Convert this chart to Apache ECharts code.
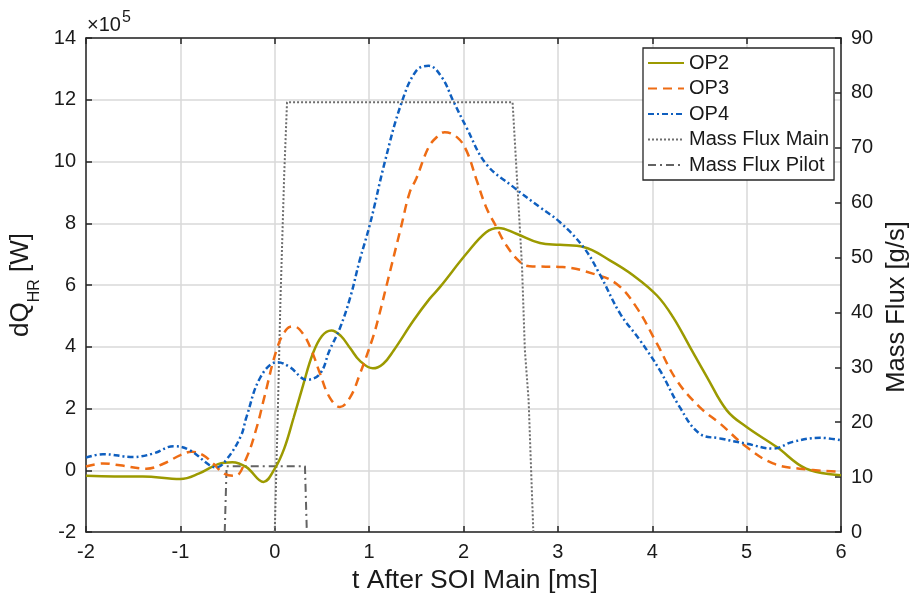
<!DOCTYPE html>
<html>
<head>
<meta charset="utf-8">
<script src="https://cdn.jsdelivr.net/npm/echarts@6/dist/echarts.min.js"></script>
<style>html,body{margin:0;padding:0;background:#fff}#c{width:912px;height:600px}</style>
</head>
<body>
<div id="c"></div>
<script>
// Heat release rate values in units of 1e5 W (axis shows x10^5)
var op2T = [-2.0,-1.7,-1.4,-1.0,-0.8,-0.6,-0.45,-0.3,-0.12,0.0,0.1,0.2,0.3,0.4,0.5,0.6,0.7,0.8,0.9,1.04,1.15,1.26,1.47,1.64,1.75,2.03,2.24,2.37,2.56,2.81,3.02,3.27,3.55,3.8,4.05,4.22,4.4,4.58,4.79,5.0,5.32,5.63,6.0];
var op2Q = [-0.18,-0.2,-0.2,-0.28,-0.1,0.2,0.26,0.1,-0.38,0.05,0.7,1.7,2.75,3.75,4.35,4.53,4.35,3.95,3.55,3.3,3.45,3.88,4.85,5.55,5.93,7.01,7.71,7.85,7.66,7.36,7.3,7.23,6.8,6.31,5.66,4.96,3.99,3.02,1.94,1.4,0.75,0.05,-0.16];

var op3T = [-2.0,-1.82,-1.64,-1.36,-1.18,-1.0,-0.88,-0.76,-0.65,-0.53,-0.42,-0.3,-0.19,-0.11,0.03,0.13,0.2,0.3,0.39,0.48,0.58,0.69,0.8,0.9,1.04,1.1,1.19,1.34,1.43,1.5,1.63,1.72,1.8,1.93,2.03,2.14,2.24,2.35,2.45,2.6,2.7,3.05,3.37,3.62,3.83,4.05,4.26,4.5,4.72,5.0,5.28,5.56,6.0];
var op3Q = [0.12,0.22,0.16,0.05,0.21,0.49,0.6,0.49,0.21,-0.12,-0.18,0.4,1.4,2.37,4.0,4.58,4.66,4.42,3.88,3.13,2.37,2.05,2.37,3.1,4.3,4.95,6.05,7.9,9.0,9.45,10.46,10.8,10.95,10.79,10.36,9.39,8.52,7.87,7.3,6.74,6.61,6.58,6.37,6.04,5.29,4.1,2.91,2.05,1.51,0.75,0.22,0.05,-0.05];

var op4T = [-2.0,-1.82,-1.5,-1.29,-1.07,-0.9,-0.69,-0.62,-0.51,-0.36,-0.3,-0.15,0.03,0.16,0.34,0.48,0.58,0.69,0.8,0.9,1.01,1.17,1.34,1.5,1.63,1.77,1.89,2.03,2.24,2.53,2.81,3.02,3.27,3.44,3.66,3.87,4.08,4.29,4.5,4.72,5.0,5.28,5.49,5.78,6.0];
var op4Q = [0.41,0.52,0.43,0.54,0.78,0.65,0.16,0.09,0.35,1.1,1.72,3.02,3.5,3.34,2.93,3.13,3.88,4.6,5.6,6.8,7.98,10.03,11.87,12.94,13.1,12.73,11.97,11.11,9.92,9.17,8.52,8.04,7.23,6.37,5.07,4.21,3.24,2.05,1.19,1.03,0.86,0.7,0.92,1.05,0.97];

// Mass flux in g/s
var mainT = [0.0,0.03,0.06,0.1,0.13,2.52,2.58,2.62,2.65,2.69,2.74];
var mainFlux = [0,20,42,65,78.3,78.3,60.5,48.4,33.2,24,0];
var pilotT = [-0.53,-0.51,0.32,0.34];
var pilotFlux = [0,12,12,0];

function zip(a,b){return a.map(function(v,i){return [v,b[i]];});}

var FONT = 'Liberation Sans, Arial, Helvetica, sans-serif';
var TXT = '#1a1a1a';
var AX = '#262626';

var chart = echarts.init(document.getElementById('c'), null, {renderer:'canvas'});
chart.setOption({
  animation:false,
  backgroundColor:'#fff',
  textStyle:{fontFamily:FONT},
  grid:{left:86,right:71,top:38,bottom:68,containLabel:false,outerBoundsMode:'none'},
  legend:{
    orient:'vertical', left:643, top:48,
    backgroundColor:'#fff', borderColor:AX, borderWidth:1.3,
    padding:[5,5,5,4], itemGap:5.5, itemWidth:36, itemHeight:14,
    itemStyle:{opacity:0},
    textStyle:{fontFamily:FONT,fontSize:20,color:TXT,lineHeight:20},
    data:['OP2','OP3','OP4','Mass Flux Main','Mass Flux Pilot']
  },
  graphic:[
    {type:'text',left:87,top:15,style:{text:'×10',font:'20px '+FONT,fill:TXT}},
    {type:'text',left:122,top:10,style:{text:'5',font:'16px '+FONT,fill:TXT}}
  ],
  xAxis:[{
    type:'value',min:-2,max:6,interval:1,position:'bottom',
    name:'t After SOI Main [ms]',nameLocation:'middle',nameGap:35,
    nameTextStyle:{fontFamily:FONT,fontSize:26.5,color:TXT,padding:[0,0,0,23]},
    axisLine:{show:true,onZero:false,lineStyle:{color:AX,width:1.5}},
    axisTick:{show:true,inside:true,length:6,lineStyle:{color:AX,width:1.5}},
    axisLabel:{fontFamily:FONT,fontSize:20,color:TXT,margin:10},
    splitLine:{show:true,lineStyle:{color:'#d9d9d9',width:1.5}}
  },{
    type:'value',min:-2,max:6,interval:1,position:'top',
    axisLine:{show:true,onZero:false,lineStyle:{color:AX,width:1.5}},
    axisTick:{show:true,inside:true,length:6,lineStyle:{color:AX,width:1.5}},
    axisLabel:{show:false},splitLine:{show:false}
  }],
  yAxis:[{
    type:'value',min:-2,max:14,interval:2,position:'left',
    name:'dQ{sub|HR} [W]',nameLocation:'middle',nameGap:40,nameRotate:90,
    nameTextStyle:{fontFamily:FONT,fontSize:26,color:TXT,
      rich:{sub:{fontFamily:FONT,fontSize:16,color:TXT,verticalAlign:'bottom',lineHeight:44}}},
    axisLine:{show:true,onZero:false,lineStyle:{color:AX,width:1.5}},
    axisTick:{show:true,inside:true,length:6,lineStyle:{color:AX,width:1.5}},
    axisLabel:{fontFamily:FONT,fontSize:20,color:TXT,margin:10},
    splitLine:{show:true,lineStyle:{color:'#d9d9d9',width:1.5}}
  },{
    type:'value',min:0,max:90,interval:10,position:'right',
    name:'Mass Flux [g/s]',nameLocation:'middle',nameGap:42,nameRotate:90,
    nameTextStyle:{fontFamily:FONT,fontSize:25.5,color:TXT,padding:[0,44,0,0]},
    axisLine:{show:true,onZero:false,lineStyle:{color:AX,width:1.5}},
    axisTick:{show:true,inside:true,length:6,lineStyle:{color:AX,width:1.5}},
    axisLabel:{fontFamily:FONT,fontSize:20,color:TXT,margin:10},
    splitLine:{show:false}
  }],
  series:[
    {name:'Mass Flux Main',type:'line',yAxisIndex:1,data:zip(mainT,mainFlux),symbol:'none',
      lineStyle:{color:'#6e6e6e',width:2,type:[2,2]},itemStyle:{color:'#6e6e6e'},z:2},
    {name:'Mass Flux Pilot',type:'line',yAxisIndex:1,data:zip(pilotT,pilotFlux),symbol:'none',
      lineStyle:{color:'#636363',width:2,type:[8,4,2,4]},itemStyle:{color:'#636363'},z:2},
    {name:'OP2',type:'line',data:zip(op2T,op2Q),symbol:'none',smooth:0.4,
      lineStyle:{color:'#9c9a00',width:2.5},itemStyle:{color:'#9c9a00'},z:3},
    {name:'OP3',type:'line',data:zip(op3T,op3Q),symbol:'none',smooth:0.4,
      lineStyle:{color:'#ee6c14',width:2.5,type:[9,6]},itemStyle:{color:'#ee6c14'},z:3},
    {name:'OP4',type:'line',data:zip(op4T,op4Q),symbol:'none',smooth:0.4,
      lineStyle:{color:'#0f5fbf',width:2.5,type:[6,3,2,3]},itemStyle:{color:'#0f5fbf'},z:3}
  ]
});
</script>
</body>
</html>
